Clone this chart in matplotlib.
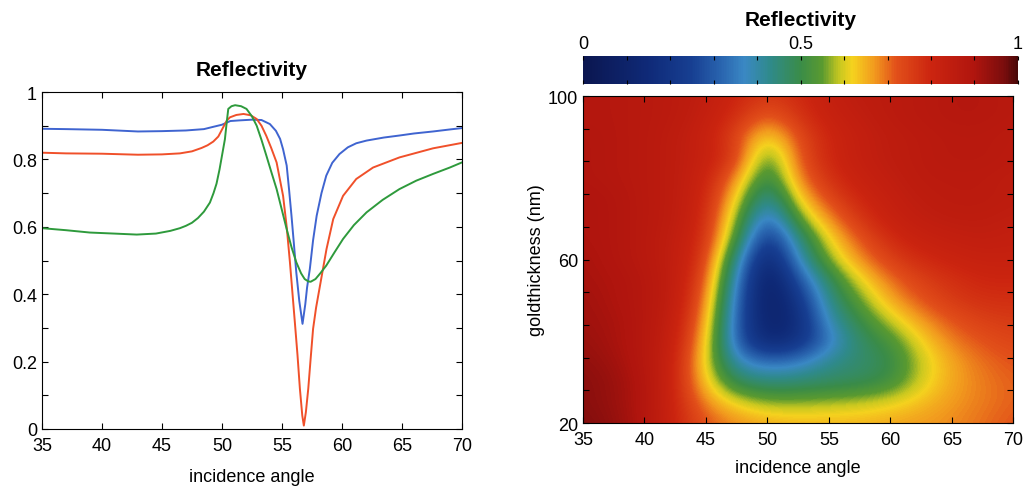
import numpy as np
import matplotlib
matplotlib.use('Agg')
import matplotlib.pyplot as plt
from matplotlib.colors import LinearSegmentedColormap

plt.rcParams['font.family'] = ['Liberation Sans', 'DejaVu Sans']

# reflectivity curves vs incidence angle
blue_x = [35, 37, 40, 43, 45, 47, 48.5, 49.3, 50, 50.7, 51.5, 52.5, 53.3, 54.0, 54.5,
          54.85, 55.1, 55.4, 55.6, 55.8, 56.0, 56.2, 56.45, 56.72, 56.95, 57.1, 57.33,
          57.6, 57.9, 58.3, 58.7, 59.2, 59.8, 60.5, 61.2, 62.06, 63.5, 64.8, 66, 67.6, 69, 70]
blue_y = [0.891, 0.890, 0.888, 0.883, 0.884, 0.886, 0.890, 0.897, 0.903, 0.914, 0.916, 0.918,
          0.917, 0.905, 0.885, 0.861, 0.830, 0.782, 0.710, 0.633, 0.550, 0.465, 0.380, 0.312,
          0.370, 0.420, 0.475, 0.560, 0.633, 0.700, 0.752, 0.790, 0.816, 0.836, 0.848, 0.856,
          0.865, 0.871, 0.877, 0.883, 0.889, 0.893]

red_x = [35, 37, 40, 43, 45, 46.5, 47.5, 48.3, 48.8, 49.28, 49.7, 50.1, 50.4, 50.67, 51.2,
         51.8, 52.4, 52.9, 53.3, 53.7, 54.1, 54.56, 55.1, 55.4, 55.67, 56.08, 56.3, 56.5,
         56.7, 56.83, 57.0, 57.2, 57.4, 57.6, 57.85, 58.1, 58.4, 58.72, 59.28, 60.1, 61.2,
         62.6, 64.8, 67.6, 70]
red_y = [0.820, 0.818, 0.817, 0.814, 0.815, 0.818, 0.824, 0.834, 0.842, 0.853, 0.868, 0.895,
         0.915, 0.925, 0.932, 0.935, 0.931, 0.920, 0.900, 0.870, 0.835, 0.791, 0.692, 0.600,
         0.495, 0.317, 0.220, 0.120, 0.040, 0.010, 0.050, 0.120, 0.210, 0.297, 0.360, 0.410,
         0.470, 0.534, 0.623, 0.692, 0.742, 0.776, 0.806, 0.833, 0.849]

green_x = [35, 37, 39, 41, 42.9, 44.5, 45.7, 46.5, 47.0, 47.5, 48.0, 48.5, 49.0, 49.3,
           49.55, 49.8, 50.05, 50.25, 50.4, 50.53, 50.8, 51.1, 51.6, 52.05, 52.5, 52.9,
           53.3, 53.7, 54.1, 54.56, 55.0, 55.4, 55.8, 56.2, 56.6, 56.9, 57.2, 57.4, 57.8,
           58.2, 58.7, 59.4, 60.1, 61, 62.06, 63.4, 64.8, 66.2, 67.6, 69, 70]
green_y = [0.596, 0.590, 0.583, 0.580, 0.577, 0.580, 0.588, 0.596, 0.603, 0.612, 0.626,
           0.645, 0.672, 0.700, 0.728, 0.770, 0.820, 0.860, 0.910, 0.950, 0.958, 0.961,
           0.958, 0.950, 0.928, 0.900, 0.858, 0.812, 0.765, 0.712, 0.650, 0.593, 0.540,
           0.495, 0.462, 0.445, 0.438, 0.437, 0.445, 0.462, 0.485, 0.525, 0.564, 0.605,
           0.643, 0.680, 0.712, 0.737, 0.757, 0.776, 0.791]

# reflectivity map: rows = gold thickness (nm), columns = incidence angle
map_angles = [35, 37.5, 40, 42.5, 45, 47.5, 50, 52.5, 55, 57.5, 60, 62.5, 65, 67.5, 70]
map_thickness = [20, 25, 30, 35, 40, 45, 50, 55, 60, 65, 70, 75, 80, 85, 90, 95, 100]
map_values = [
    [0.96, 0.94, 0.89, 0.80, 0.72, 0.68, 0.66, 0.65, 0.65, 0.65, 0.66, 0.67, 0.68, 0.70, 0.72],
    [0.95, 0.93, 0.89, 0.80, 0.68, 0.61, 0.57, 0.57, 0.58, 0.59, 0.61, 0.64, 0.67, 0.69, 0.71],
    [0.95, 0.93, 0.89, 0.80, 0.63, 0.48, 0.45, 0.46, 0.47, 0.48, 0.51, 0.60, 0.66, 0.69, 0.71],
    [0.94, 0.92, 0.88, 0.81, 0.61, 0.38, 0.33, 0.35, 0.43, 0.46, 0.49, 0.59, 0.66, 0.70, 0.72],
    [0.93, 0.91, 0.88, 0.82, 0.64, 0.30, 0.13, 0.19, 0.34, 0.47, 0.52, 0.62, 0.69, 0.72, 0.74],
    [0.92, 0.91, 0.88, 0.83, 0.67, 0.30, 0.09, 0.16, 0.40, 0.50, 0.59, 0.67, 0.72, 0.75, 0.76],
    [0.92, 0.90, 0.88, 0.84, 0.70, 0.32, 0.07, 0.20, 0.44, 0.55, 0.66, 0.72, 0.76, 0.78, 0.78],
    [0.91, 0.90, 0.88, 0.84, 0.73, 0.36, 0.06, 0.28, 0.48, 0.61, 0.70, 0.75, 0.78, 0.80, 0.80],
    [0.91, 0.89, 0.87, 0.84, 0.76, 0.42, 0.10, 0.38, 0.57, 0.68, 0.75, 0.79, 0.81, 0.82, 0.82],
    [0.90, 0.89, 0.87, 0.84, 0.78, 0.52, 0.18, 0.44, 0.62, 0.72, 0.79, 0.82, 0.83, 0.84, 0.83],
    [0.90, 0.89, 0.87, 0.85, 0.79, 0.57, 0.28, 0.55, 0.68, 0.77, 0.82, 0.84, 0.85, 0.85, 0.84],
    [0.90, 0.89, 0.87, 0.85, 0.80, 0.62, 0.38, 0.63, 0.74, 0.80, 0.83, 0.85, 0.86, 0.86, 0.85],
    [0.89, 0.88, 0.87, 0.85, 0.81, 0.68, 0.46, 0.69, 0.78, 0.82, 0.84, 0.86, 0.86, 0.86, 0.85],
    [0.89, 0.88, 0.87, 0.85, 0.82, 0.76, 0.50, 0.72, 0.80, 0.83, 0.85, 0.86, 0.87, 0.87, 0.86],
    [0.89, 0.88, 0.87, 0.85, 0.82, 0.74, 0.60, 0.73, 0.80, 0.83, 0.85, 0.86, 0.87, 0.87, 0.86],
    [0.88, 0.88, 0.87, 0.86, 0.83, 0.78, 0.70, 0.77, 0.82, 0.84, 0.86, 0.87, 0.88, 0.88, 0.87],
    [0.88, 0.88, 0.87, 0.86, 0.84, 0.80, 0.76, 0.79, 0.83, 0.85, 0.86, 0.87, 0.88, 0.88, 0.87],
]

cmap = LinearSegmentedColormap.from_list('refl', [
    (0.00, '#0b1650'), (0.15, '#0f2a78'), (0.25, '#173f92'), (0.32, '#2a66b0'),
    (0.37, '#3a88c4'), (0.43, '#2f8a8a'), (0.50, '#3a8c48'), (0.55, '#5a9a30'),
    (0.59, '#c8c820'), (0.62, '#f5d21e'), (0.67, '#f29a1e'), (0.72, '#e2501a'),
    (0.80, '#cc2510'), (0.90, '#b0150e'), (0.97, '#7a0d0d'), (1.00, '#4a0808')])

fig = plt.figure(figsize=(10.29, 4.89), dpi=100)
fs = 13

# left: line plot
ax1 = fig.add_axes([0.0408, 0.1207, 0.408, 0.689])
ax1.plot(blue_x, blue_y, color='#3f64d0', lw=1.4)
ax1.plot(red_x, red_y, color='#f0502a', lw=1.4)
ax1.plot(green_x, green_y, color='#2e9a3c', lw=1.4)
ax1.set_xlim(35, 70)
ax1.set_ylim(0, 1)
ax1.set_xticks(np.arange(35, 71, 5))
yt = np.round(np.arange(0, 1.01, 0.1), 1)
ax1.set_yticks(yt)
ax1.set_yticklabels(['0', '', '0.2', '', '0.4', '', '0.6', '', '0.8', '', '1'])
ax1.tick_params(direction='in', top=True, right=True, length=4, width=0.8, labelsize=fs)
ax1.tick_params(axis='x', pad=6)
ax1.set_title('Reflectivity', fontsize=15, fontweight='bold', pad=12)
ax1.set_xlabel('incidence angle', fontsize=fs, labelpad=10)

# right: map of reflectivity vs angle and gold thickness
ax2 = fig.add_axes([0.5666, 0.1329, 0.418, 0.6687])
da = map_angles[1] - map_angles[0]
dt = map_thickness[1] - map_thickness[0]
im = ax2.imshow(np.array(map_values), origin='lower', aspect='auto', cmap=cmap,
                vmin=0, vmax=1, interpolation='bicubic',
                extent=[map_angles[0] - da / 2, map_angles[-1] + da / 2,
                        map_thickness[0] - dt / 2, map_thickness[-1] + dt / 2])
ax2.set_xlim(35, 70)
ax2.set_ylim(20, 100)
ax2.set_xticks(np.arange(35, 71, 5))
ax2.set_yticks(np.arange(20, 101, 8))
ax2.set_yticklabels(['20', '', '', '', '', '60', '', '', '', '', '100'])
ax2.tick_params(direction='in', top=True, right=True, length=4, width=0.8, labelsize=fs)
ax2.tick_params(axis='x', pad=6)
ax2.set_xlabel('incidence angle', fontsize=fs, labelpad=8)
ax2.set_ylabel('goldthickness (nm)', fontsize=fs, labelpad=2)

cax = fig.add_axes([0.5666, 0.8262, 0.4227, 0.0573])
cb = fig.colorbar(im, cax=cax, orientation='horizontal')
cb.outline.set_visible(False)
cax.xaxis.set_ticks_position('top')
cax.xaxis.set_label_position('top')
cb.set_ticks(np.round(np.arange(0, 1.01, 0.1), 1))
cb.set_ticklabels(['0', '', '', '', '', '0.5', '', '', '', '', '1'])
cax.tick_params(direction='in', top=True, bottom=True, length=3, width=0.8,
                labelsize=fs, pad=3)
cax.set_title('Reflectivity', fontsize=15, fontweight='bold', pad=22)

plt.savefig('out.png', dpi=100)
